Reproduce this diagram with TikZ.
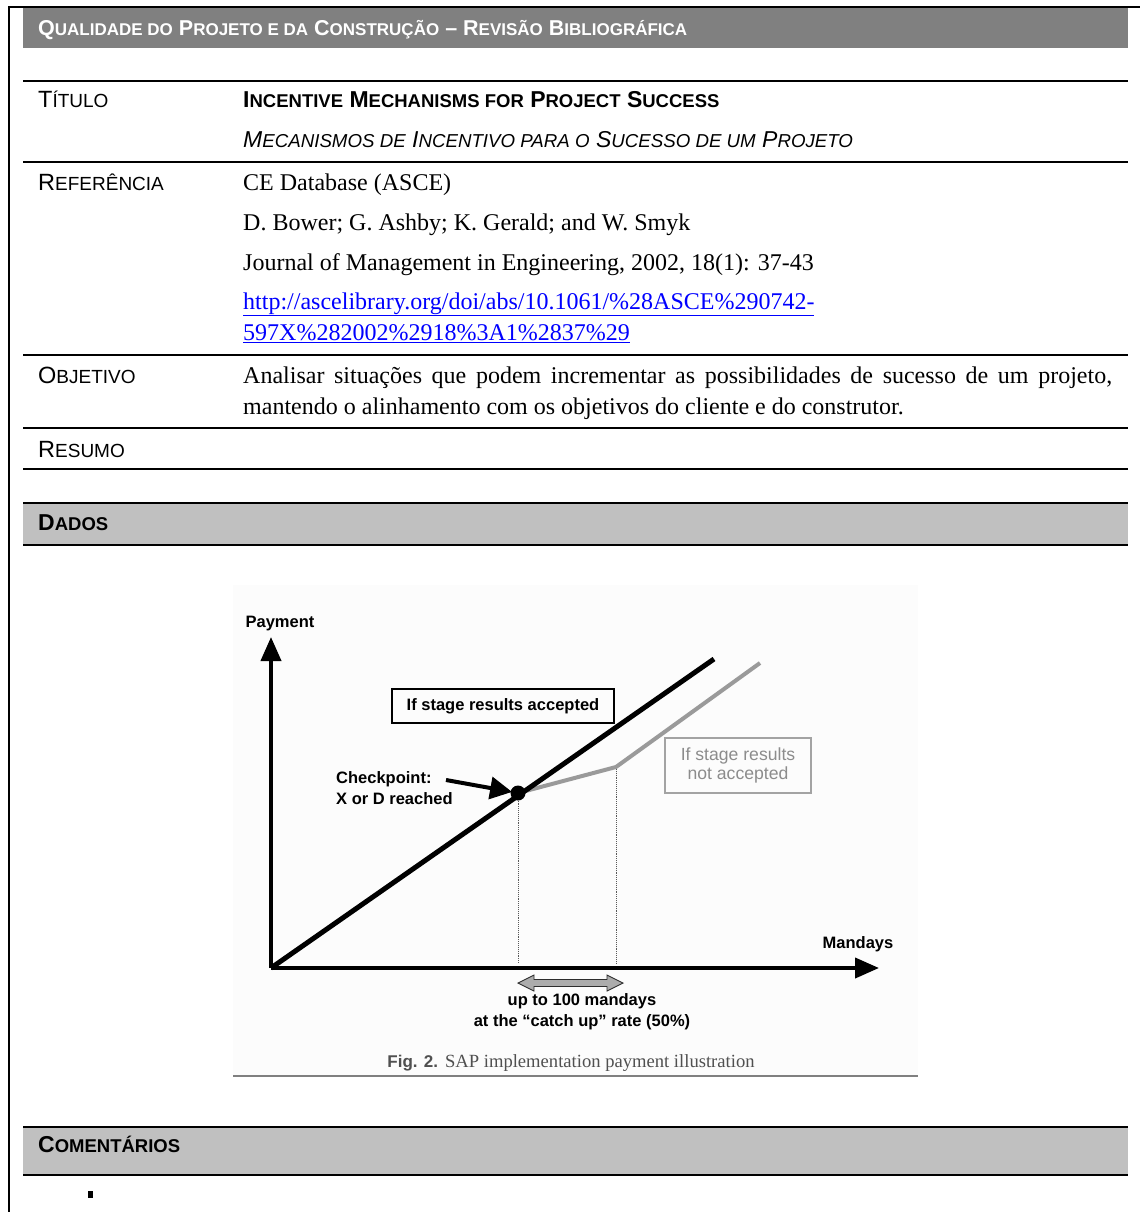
\documentclass[tikz,border=0pt]{standalone}
\usepackage{fontspec}
\setmainfont{Liberation Serif}
\setsansfont{Liberation Sans}
\usetikzlibrary{arrows.meta,calc}

\definecolor{hdrgray}{HTML}{808080}
\definecolor{secgray}{HTML}{C0C0C0}
\definecolor{linkblue}{HTML}{0000FF}
\definecolor{curvegray}{HTML}{9A9A9A}
\definecolor{notegray}{HTML}{8C8C8C}
\definecolor{capgray}{HTML}{505050}

% fake small caps: the lowered letters are set at \lcsize
\def\lcsize{15}
\newcommand\lowcaps[1]{{\fontsize{\lcsize}{\lcsize}\selectfont #1}}

\tikzset{
  rule/.style={line width=2pt},
  txt/.style={inner sep=0pt, anchor=base west},
  hdrfont/.style={txt, font=\sffamily\bfseries\fontsize{21.5}{22}\selectfont\def\lcsize{17}},
  secfont/.style={txt, font=\sffamily\bfseries\fontsize{23}{24}\selectfont\def\lcsize{18.5}},
  lblfont/.style={txt, font=\sffamily\fontsize{23.5}{24}\selectfont\def\lcsize{19}},
  titlefont/.style={txt, font=\sffamily\bfseries\fontsize{23}{24}\selectfont\def\lcsize{18.5}},
  subtfont/.style={txt, font=\sffamily\itshape\fontsize{23}{24}\selectfont\def\lcsize{18.7}},
  bodyfont/.style={txt, font=\fontsize{24}{26}\selectfont},
  linkfont/.style={bodyfont, text=linkblue},
  figlbl/.style={inner sep=0pt, font=\sffamily\bfseries\fontsize{16.5}{20}\selectfont},
  axis/.style={line width=4pt, -{Triangle[length=24pt,width=20pt]}},
}

\begin{document}
\begin{tikzpicture}[x=1pt,y=-1pt]
\useasboundingbox (0,0) rectangle (1140,1212);
\fill[white] (0,0) rectangle (1140,1212);

% outer frame
\draw[rule] (9,1212) -- (9,7) -- (1140,7);

% page header bar
\fill[hdrgray] (23,8) rectangle (1128,48);
\node[hdrfont, text=white] (hdr) at (38,35.5)
  {Q\lowcaps{UALIDADE DO} P\lowcaps{ROJETO E DA} C\lowcaps{ONSTRUÇÃO} – R\lowcaps{EVISÃO} B\lowcaps{IBLIOGRÁFICA}};

% table rules
\draw[rule] (23,81) -- (1128,81);
\draw[rule] (23,162) -- (1128,162);
\draw[rule] (23,355) -- (1128,355);
\draw[rule] (23,428) -- (1128,428);
\draw[rule] (23,469) -- (1128,469);

% Titulo
\node[lblfont] (lbltit) at (38,108) {T\lowcaps{ÍTULO}};
\node[titlefont] (tit) at (243,108) {I\lowcaps{NCENTIVE} M\lowcaps{ECHANISMS FOR} P\lowcaps{ROJECT} S\lowcaps{UCCESS}};
\node[subtfont] (subt) at (243,147) {M\lowcaps{ECANISMOS DE} I\lowcaps{NCENTIVO PARA O} S\lowcaps{UCESSO DE UM} P\lowcaps{ROJETO}};

% Referencia
\node[lblfont] (lblref) at (38,190) {R\lowcaps{EFERÊNCIA}};
\node[bodyfont] (ref1) at (243,190) {CE Database (ASCE)};
\node[bodyfont] (ref2) at (243,230) {D. Bower; G. Ashby; K. Gerald; and W. Smyk};
\node[bodyfont] (ref3) at (243,270) {Journal of Management in Engineering, 2002, 18(1): 37-43};
\node[linkfont] (ref4) at (243,309) {\underline{http://ascelibrary.org/doi/abs/10.1061/\%28ASCE\%290742-}};
\node[linkfont] (ref5) at (243,340) {\underline{597X\%282002\%2918\%3A1\%2837\%29}};

% Objetivo
\node[lblfont] (lblobj) at (38,383) {O\lowcaps{BJETIVO}};
\node[bodyfont] (obj1) at (243,383) {\makebox[869pt][s]{Analisar situações que podem incrementar as possibilidades de sucesso de um projeto,}};
\node[bodyfont] (obj2) at (243,414) {mantendo o alinhamento com os objetivos do cliente e do construtor.};

% Resumo
\node[lblfont] (lblres) at (38,457) {R\lowcaps{ESUMO}};

% Dados bar
\fill[secgray] (23,503) rectangle (1128,545);
\draw[rule] (23,503) -- (1128,503);
\draw[rule] (23,545) -- (1128,545);
\node[secfont] (dados) at (38,530.5) {D\lowcaps{ADOS}};

% figure panel
\fill[gray!2] (233,585) rectangle (918,1076);
\draw[line width=2pt, gray] (233,1076) -- (918,1076);

% chart points
\coordinate (O) at (271,968);
\coordinate (ytip) at (271,637);
\coordinate (xtip) at (879,968);
\coordinate (cp) at (518,793);
\coordinate (acc) at (714,659);
\coordinate (knee) at (616,767);
\coordinate (nacc) at (760,663);
\coordinate (cpfoot) at (518,963);
\coordinate (kneefoot) at (616,963);
\coordinate (cptail) at (446,780);

% dotted guides
\draw[densely dotted, line width=0.9pt, gray!70!black] (cp) -- (cpfoot);
\draw[densely dotted, line width=0.9pt, gray!70!black] (knee) -- (kneefoot);

% payment curves
\draw[line width=4pt, curvegray, line join=round] (cp) -- (knee) -- (nacc);
\draw[line width=5pt, black] (O) -- (acc);

% axes
\draw[axis] (O) -- (ytip);
\draw[axis] (O) -- (xtip);

% checkpoint
\fill (cp) circle (7.5pt);
\draw[line width=4pt, -{Triangle[length=22pt,width=22pt]}, shorten >=6pt] (cptail) -- (cp);

% labels
\node[figlbl] (pay) at (280,624) {Payment};
\node[figlbl] (mand) at (858,944) {Mandays};
\node[figlbl, align=left, anchor=west] (chk) at (336,788) {Checkpoint:\\[1pt]X or D reached};
\node[figlbl, draw, line width=1.5pt, minimum width=222pt, minimum height=34pt] (accbox) at (503,706) {If stage results accepted};
\node[inner sep=0pt, draw=notegray!80, line width=1.3pt, minimum width=146pt, minimum height=55pt,
      text=notegray, align=center, font=\sffamily\fontsize{17.6}{19.5}\selectfont] (naccbox) at (738,765.5)
      {If stage results\\not accepted};

% catch-up range marker
\coordinate (rl) at (518,983);
\coordinate (rr) at (623,983);
\draw[fill=gray!65, draw=gray!35!black, line width=0.9pt]
  (rl) -- ++(16,-8) -- ++(0,4.5) -- ($(rr)+(-16,-3.5)$) -- ++(0,-4.5) -- (rr) -- ++(-16,8) -- ++(0,-4.5)
  -- ($(rl)+(16,3.5)$) -- ++(0,4.5) -- cycle;
\node[figlbl, align=center] (rng) at (582,1012) {up to 100 mandays\\[1pt]at the “catch up” rate (50\%)};

% caption
\node[inner sep=0pt, anchor=base] (cap) at (571,1067)
  {{\sffamily\bfseries\fontsize{17}{18}\selectfont\color{capgray}Fig. 2.}\hspace{7pt}{\fontsize{18.6}{19}\selectfont\color{capgray}SAP implementation payment illustration}};

% Comentarios bar
\fill[secgray] (23,1127) rectangle (1128,1175);
\draw[rule] (23,1127) -- (1128,1127);
\draw[rule] (23,1175) -- (1128,1175);
\node[secfont] (coment) at (38,1152.5) {C\lowcaps{OMENTÁRIOS}};

% empty bullet item
\node[fill=black, inner sep=0pt, minimum width=5pt, minimum height=7pt] (bul) at (90.5,1194.5) {};
\end{tikzpicture}
\end{document}
